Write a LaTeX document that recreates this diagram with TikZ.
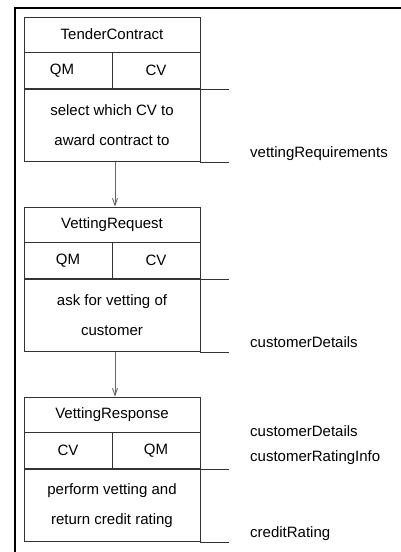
\documentclass[tikz,border=0pt]{standalone}
\usepackage{fontspec}
\setmainfont{Liberation Sans}
\usetikzlibrary{arrows.meta,calc}
\newcommand\diafont{\fontsize{15}{30}\selectfont}
\tikzset{
  cell/.style={draw=black!80, line width=0.8pt, inner sep=0pt, font=\diafont},
  title/.style={cell, minimum width=176pt, minimum height=35pt},
  half/.style={cell, minimum width=88pt, minimum height=36pt},
  body/.style={cell, minimum width=176pt, minimum height=72pt, align=center},
  lbl/.style={font=\diafont, inner sep=0pt, anchor=base west},
  outline/.style={draw=black!80, line width=0.8pt},
  arr/.style={draw=black!60, line width=0.8pt, -{Straight Barb[length=7pt,width=5pt,line width=0.9pt]}},
  frame/.style={line width=2.5pt, line join=miter}
}
\begin{document}
\begin{tikzpicture}[x=1pt,y=-1pt]
\useasboundingbox (0,0) rectangle (401,552);
\draw[frame] (15,560) -- (15,8) -- (410,8);

% Box 1
\node[title] (t1) at (112,34.5) {TenderContract};
\node[half, anchor=north west] (l1) at (t1.south west) {\hspace*{-12pt}QM};
\node[half, anchor=north east] (r1) at (t1.south east) {CV};
\node[body, anchor=north] (b1) at (t1.south |- l1.south) {select which CV to\\award contract to};
\coordinate (e1a) at ([xshift=29pt]b1.north east);
\coordinate (e1b) at ([xshift=29pt]b1.south east);
\draw[outline] (b1.north east) -- (e1a);
\draw[outline] (b1.south east) -- (e1b);
\node[lbl] (v1) at (250,157) {vettingRequirements};

% Box 2
\node[title] (t2) at (112,224.5) {VettingRequest};
\node[half, anchor=north west] (l2) at (t2.south west) {QM};
\node[half, anchor=north east] (r2) at (t2.south east) {CV};
\node[body, anchor=north] (b2) at (t2.south |- l2.south) {ask for vetting of\\customer};
\coordinate (e2a) at ([xshift=29pt]b2.north east);
\coordinate (e2b) at ([xshift=29pt]b2.south east);
\draw[outline] (b2.north east) -- (e2a);
\draw[outline] (b2.south east) -- (e2b);
\node[lbl] (v2) at (250,347) {customerDetails};

% Box 3
\node[title] (t3) at (112,414.5) {VettingResponse};
\node[half, anchor=north west] (l3) at (t3.south west) {CV};
\node[half, anchor=north east] (r3) at (t3.south east) {QM};
\node[body, anchor=north] (b3) at (t3.south |- l3.south) {perform vetting and\\return credit rating};
\coordinate (e3a) at ([xshift=29pt]b3.north east);
\coordinate (e3b) at ([xshift=29pt]b3.south east);
\draw[outline] (b3.north east) -- (e3a);
\draw[outline] (b3.south east) -- (e3b);
\node[lbl] (v3) at (250,436) {customerDetails};
\node[lbl] (v4) at (250,461) {customerRatingInfo};
\node[lbl] (v5) at (250,537) {creditRating};

% Arrows
\draw[arr] ([xshift=3pt]b1.south) -- ([xshift=3pt]t2.north);
\draw[arr] ([xshift=3pt]b2.south) -- ([xshift=3pt]t3.north);
\end{tikzpicture}
\end{document}
